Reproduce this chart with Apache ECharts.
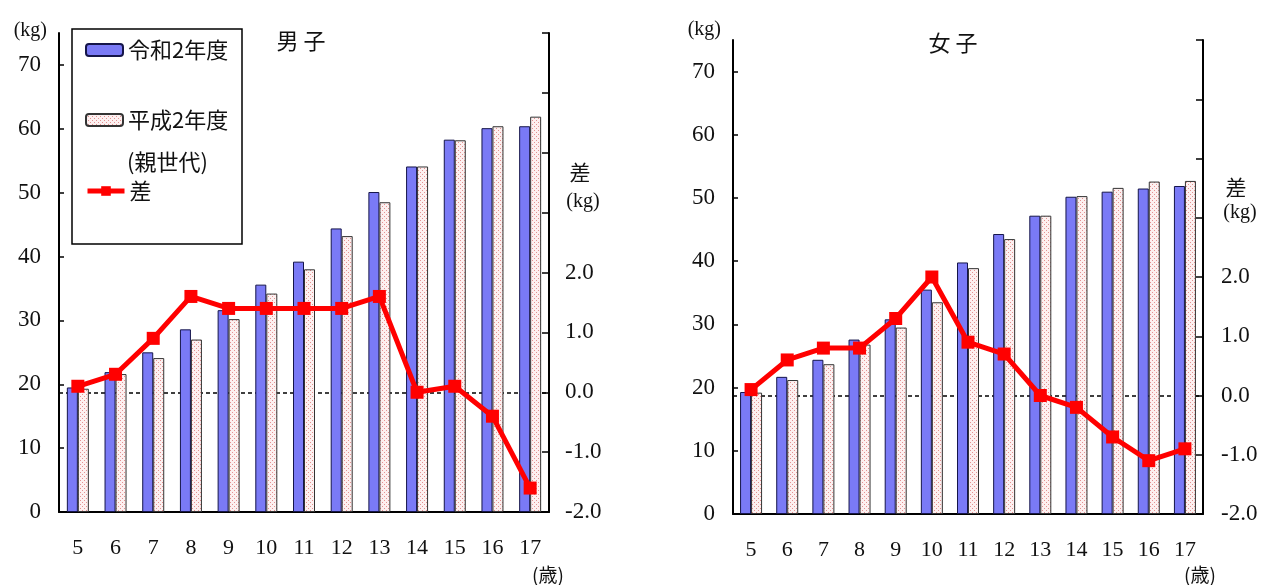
<!DOCTYPE html>
<html><head><meta charset="utf-8">
<script src="https://cdn.jsdelivr.net/npm/echarts@6/dist/echarts.min.js"></script>
<style>html,body{margin:0;padding:0;background:#fff}#c{width:1264px;height:585px}</style>
</head><body><div id="c"></div>
<script>
// ---- data ----
const ages = ['5','6','7','8','9','10','11','12','13','14','15','16','17'];
const boysR2 = [19.5, 21.9, 25.0, 28.6, 31.6, 35.6, 39.2, 44.4, 50.1, 54.1, 58.3, 60.1, 60.4];
const boysH2 = [19.3, 21.6, 24.1, 27.0, 30.2, 34.2, 38.0, 43.2, 48.5, 54.1, 58.2, 60.4, 61.9];
const boysDiff = [0.1, 0.3, 0.9, 1.6, 1.4, 1.4, 1.4, 1.4, 1.6, 0.0, 0.1, -0.4, -1.6];
const girlsR2 = [19.3, 21.7, 24.4, 27.6, 30.8, 35.5, 39.8, 44.3, 47.2, 50.2, 51.0, 51.5, 51.9];
const girlsH2 = [19.2, 21.2, 23.7, 26.8, 29.5, 33.5, 38.9, 43.5, 47.2, 50.3, 51.6, 52.6, 52.7];
const girlsDiff = [0.1, 0.6, 0.8, 0.8, 1.3, 2.0, 0.9, 0.7, 0.0, -0.2, -0.7, -1.1, -0.9];
const weightTicks = [0, 10, 20, 30, 40, 50, 60, 70];
const diffLabelValues = [-2, -1, 0, 1, 2];
const diffTickValues = [-2, -1, 0, 1, 2, 3, 4, 5, 6];
const seriesNames = ['令和2年度', '平成2年度', '差'];

// ---- styles ----
const SERIF = 'Liberation Serif';
const CJK = 'Noto Sans CJK JP';
const pc = document.createElement('canvas');
pc.width = 4; pc.height = 4;
const g = pc.getContext('2d');
g.fillStyle = '#fdf0f0'; g.fillRect(0, 0, 4, 4);
g.fillStyle = '#e39292'; g.fillRect(0, 0, 1, 1); g.fillRect(2, 2, 1, 1);
const pinkFill = { image: pc, repeat: 'repeat' };
const blue = '#7a7af6';

const chart = echarts.init(document.getElementById('c'));

function xAxis(gi) {
  return {
    type: 'category', gridIndex: gi, data: ages,
    axisLine: { lineStyle: { color: '#000', width: 2 } },
    axisTick: { inside: true, length: 7, lineStyle: { color: '#000', width: 1.5 } },
    axisLabel: { margin: 25, color: '#111', fontFamily: SERIF, fontSize: 22 },
    splitLine: { show: false }
  };
}
function yLeft(gi, gap) {
  return {
    type: 'value', gridIndex: gi, min: 0, max: 75, interval: 10, position: 'left',
    name: '(kg)', nameLocation: 'end', nameGap: gap,
    nameTextStyle: { align: 'right', verticalAlign: 'middle', padding: [0, 12, 0, 0], color: '#111', fontFamily: SERIF, fontSize: 20 },
    axisLine: { show: true, lineStyle: { color: '#000', width: 2 } },
    axisTick: { show: true, inside: true, length: 5, customValues: weightTicks, lineStyle: { color: '#000', width: 1.5 } },
    axisLabel: { margin: 18, customValues: weightTicks, color: '#111', fontFamily: SERIF, fontSize: 23 },
    splitLine: { show: false }
  };
}
function yRight(gi, margin) {
  return {
    type: 'value', gridIndex: gi, min: -2, max: 6, interval: 1, position: 'right',
    axisLine: { show: true, lineStyle: { color: '#000', width: 2 } },
    axisTick: { show: true, inside: true, length: 7, customValues: diffTickValues, lineStyle: { color: '#000', width: 1.5 } },
    axisLabel: { margin: margin, customValues: diffLabelValues, formatter: v => v.toFixed(1), color: '#111', fontFamily: SERIF, fontSize: 23 },
    splitLine: { show: false }
  };
}
function seriesFor(gi, r2, h2, diff) {
  return [
    { name: seriesNames[0], type: 'bar', xAxisIndex: gi, yAxisIndex: gi * 2, data: r2,
      barWidth: 11, barGap: '0%', z: 2,
      itemStyle: { color: blue, borderColor: '#15154a', borderWidth: 1 } },
    { name: seriesNames[1], type: 'bar', xAxisIndex: gi, yAxisIndex: gi * 2, data: h2,
      barWidth: 11, barGap: '0%', z: 2,
      itemStyle: { color: pinkFill, borderColor: '#333', borderWidth: 1 } },
    { name: seriesNames[2], type: 'line', xAxisIndex: gi, yAxisIndex: gi * 2 + 1, data: diff,
      z: 4, symbol: 'rect', symbolSize: 13,
      itemStyle: { color: '#ff0000' }, lineStyle: { color: '#ff0000', width: 5 },
      markLine: { silent: true, z: 1, symbol: 'none', label: { show: false },
        lineStyle: { color: '#000', type: [4, 3], width: 1.5 }, data: [{ yAxis: 0 }] } }
  ];
}
function legendItem(name, top) {
  return {
    data: [name], left: 85, top: top, orient: 'vertical', padding: 0,
    itemWidth: 37, itemHeight: 12, selectedMode: false,
    lineStyle: { width: 5 },
    textStyle: { fontSize: 22, fontFamily: CJK, color: '#111' }
  };
}
function txt(x, y, text, font, size, align) {
  return { type: 'text', x: x, y: y, silent: true, z: 10,
    style: { text: text, fontFamily: font, fontSize: size, fill: '#111', align: align || 'center', verticalAlign: 'middle' } };
}

chart.setOption({
  animation: false,
  backgroundColor: '#fff',
  grid: [
    { left: 59, top: 33, width: 490, height: 479 },
    { left: 733, top: 40, width: 470, height: 474 }
  ],
  xAxis: [xAxis(0), xAxis(1)],
  yAxis: [yLeft(0, 2), yRight(0, 16), yLeft(1, 10), yRight(1, 18)],
  legend: [legendItem(seriesNames[0], 39), legendItem(seriesNames[1], 109), legendItem(seriesNames[2], 180)],
  graphic: [
    { type: 'rect', z: 0, silent: true, shape: { x: 72, y: 29, width: 170, height: 215 },
      style: { fill: '#fff', stroke: '#000', lineWidth: 1.5 } },
    txt(127, 162, '(親世代)', CJK, 22, 'left'),
    txt(301, 41, '男 子', CJK, 22),
    txt(953, 43, '女 子', CJK, 22),
    txt(580, 172, '差', CJK, 21),
    txt(583, 202, '(kg)', SERIF, 20),
    txt(1236, 187, '差', CJK, 21),
    txt(1240, 213, '(kg)', SERIF, 20),
    txt(548, 575, '(歳)', CJK, 19),
    txt(1200, 575, '(歳)', CJK, 19)
  ],
  series: [].concat(seriesFor(0, boysR2, boysH2, boysDiff), seriesFor(1, girlsR2, girlsH2, girlsDiff))
});
</script>
</body></html>
